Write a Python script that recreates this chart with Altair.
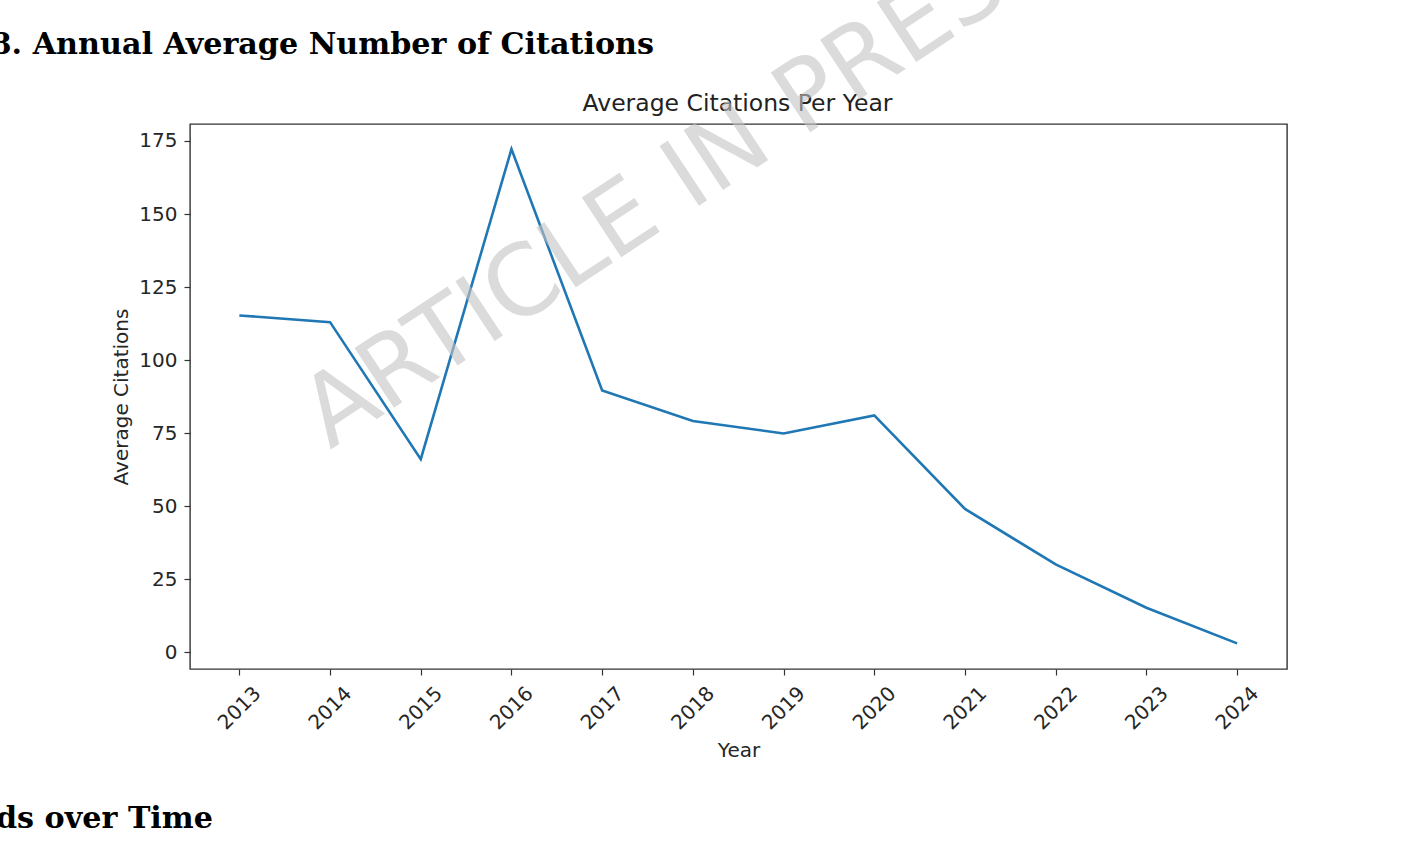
import altair as alt
import pandas as pd

years = [2013, 2014, 2015, 2016, 2017, 2018, 2019, 2020, 2021, 2022, 2023, 2024]
avg_citations = [115.3, 113.0, 66.1, 172.2, 89.6, 79.2, 74.9, 81.1, 49.1, 30.1, 15.3, 3.1]
y_ticks = [0, 25, 50, 75, 100, 125, 150, 175]

chart_title = "Average Citations Per Year"
x_title = "Year"
y_title = "Average Citations"
heading_top = "8. Annual Average Number of Citations"
heading_bottom = "ds over Time"
watermark = "ARTICLE IN PRESS"

W, H = 1097, 545

df = pd.DataFrame({"Year": years, "Average Citations": avg_citations})

line = alt.Chart(df).mark_line(color="#1f77b4", strokeWidth=2.6).encode(
    x=alt.X(
        "Year:Q",
        scale=alt.Scale(domain=[2012.456, 2024.55], nice=False, zero=False),
        axis=alt.Axis(
            values=years, format="d", labelAngle=315, labelAlign="center",
            labelBaseline="middle", labelPadding=33, labelFlush=False,
            labelOverlap=False, title=x_title, titleX=W / 2, titleY=87,
            titleAlign="center", titleBaseline="alphabetic",
        ),
    ),
    y=alt.Y(
        "Average Citations:Q",
        scale=alt.Scale(domain=[-5.68, 180.8], nice=False, zero=False),
        axis=alt.Axis(
            values=y_ticks, labelPadding=7, title=y_title, titleAngle=270,
            titleX=-63, titleY=H / 2, titleAlign="center",
            titleBaseline="alphabetic",
        ),
    ),
)

def text_layer(txt, **kw):
    pos = {k: kw.pop(k) for k in ("x", "y")}
    return alt.Chart(pd.DataFrame({"t": [txt]})).mark_text(**kw).encode(
        x=alt.value(pos["x"]), y=alt.value(pos["y"]), text="t:N"
    )

title = text_layer(chart_title, x=547.5, y=-13, font="DejaVu Sans", fontSize=23.5,
                   color="#222222", align="center", baseline="alphabetic")
h1 = text_layer(heading_top, x=654 - 190, y=53.5 - 124, font="DejaVu Serif",
                fontWeight="bold", fontSize=30.2, color="#000000",
                align="right", baseline="alphabetic")
h2 = text_layer(heading_bottom, x=213 - 190, y=828.3 - 124, font="DejaVu Serif",
                fontWeight="bold", fontSize=30.2, color="#000000",
                align="right", baseline="alphabetic")
wm = text_layer(watermark, x=330 - 190, y=450 - 124, font="DejaVu Sans",
                fontWeight="normal", fontSize=98, color="#c4c4c4", opacity=0.6,
                align="left", baseline="alphabetic", angle=326.5)

chart = alt.layer(line, title, h1, h2, wm).properties(
    width=W, height=H,
    autosize=alt.AutoSizeParams(type="none"),
    padding={"left": 190, "top": 124, "right": 131, "bottom": 192},
    background="white",
).configure_view(
    stroke="#333333", strokeWidth=1.4
).configure_axis(
    domain=False, grid=False, tickColor="#333333", tickSize=6, tickWidth=1.2,
    labelFont="DejaVu Sans", labelFontSize=20, labelColor="#262626",
    titleFont="DejaVu Sans", titleFontSize=20, titleColor="#262626",
    titleFontWeight="normal",
)

chart.save("out.html", embed_options={"renderer": "svg", "actions": False})
